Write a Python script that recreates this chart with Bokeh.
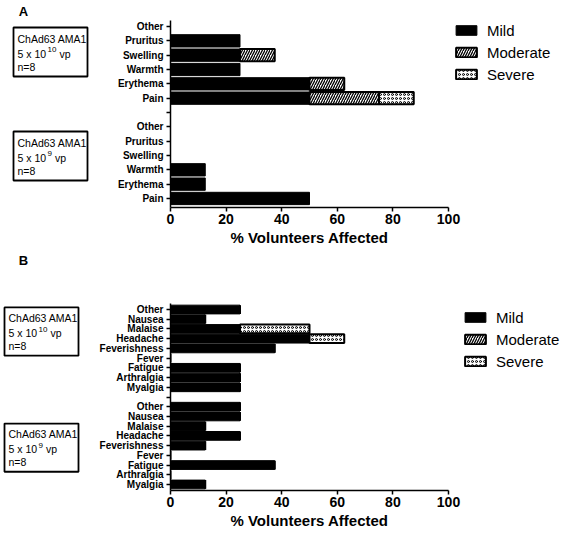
from bokeh.plotting import figure
from bokeh.models import Range1d, FixedTicker, Legend, LegendItem, ColumnDataSource, LinearAxis
from bokeh.layouts import row, column
from bokeh.core.properties import value
from bokeh.embed import file_html
from bokeh.resources import INLINE

FONT = "Liberation Sans"

# ---------------- data ----------------
# Panel A: local adverse events (top to bottom within each dose group)
local_symptoms = ["Other", "Pruritus", "Swelling", "Warmth", "Erythema", "Pain"]
local_high_mild = [0, 25, 25, 25, 50, 50]
local_high_moderate = [0, 0, 12.5, 0, 12.5, 25]
local_high_severe = [0, 0, 0, 0, 0, 12.5]
local_low_mild = [0, 0, 0, 12.5, 12.5, 50]
local_low_moderate = [0, 0, 0, 0, 0, 0]
local_low_severe = [0, 0, 0, 0, 0, 0]

# Panel B: systemic adverse events
systemic_symptoms = ["Other", "Nausea", "Malaise", "Headache", "Feverishness",
                     "Fever", "Fatigue", "Arthralgia", "Myalgia"]
systemic_high_mild = [25, 12.5, 25, 50, 37.5, 0, 25, 25, 25]
systemic_high_moderate = [0, 0, 0, 0, 0, 0, 0, 0, 0]
systemic_high_severe = [0, 0, 25, 12.5, 0, 0, 0, 0, 0]
systemic_low_mild = [25, 25, 12.5, 25, 12.5, 0, 37.5, 0, 12.5]
systemic_low_moderate = [0, 0, 0, 0, 0, 0, 0, 0, 0]
systemic_low_severe = [0, 0, 0, 0, 0, 0, 0, 0, 0]

x_ticks = [0, 20, 40, 60, 80, 100]
severity_labels = ["Mild", "Moderate", "Severe"]
vaccine_name = "ChAd63 AMA1"
dose_high = ("5 x 10", "10", "vp")
dose_low = ("5 x 10", "9", "vp")
group_size = "n=8"
x_title = "% Volunteers Affected"
panel_letters = ["A", "B"]

FRAME_W = 278
FRAME_H = 187


def segments(symptoms, mild, moderate, severe, base):
    n = len(symptoms)
    out = {k: dict(y=[], left=[], right=[]) for k in ("mild", "moderate", "severe")}
    for i in range(n):
        y = base + (n - 1 - i)
        a, b, c = mild[i], moderate[i], severe[i]
        for key, l, r in (("mild", 0, a), ("moderate", a, a + b), ("severe", a + b, a + b + c)):
            out[key]["y"].append(y)
            out[key]["left"].append(l)
            out[key]["right"].append(r)
    return out


def combine(seg_low, seg_high, key):
    ys = seg_low[key]["y"] + seg_high[key]["y"]
    ls = seg_low[key]["left"] + seg_high[key]["left"]
    rs = seg_low[key]["right"] + seg_high[key]["right"]
    keep = [i for i in range(len(ys)) if rs[i] > ls[i]]
    if not keep:  # keep zero-width entries so the legend still shows the swatch
        keep = list(range(len(ys)))
    return dict(y=[ys[i] for i in keep], left=[ls[i] for i in keep],
                right=[rs[i] for i in keep])


def make_chart(symptoms, high, low, y_pad_lo, y_pad_hi, bar_h, top_border,
               bottom_border, legend_loc):
    n = len(symptoms)
    nticks = 2 * n + 1
    p = figure(frame_width=FRAME_W, frame_height=FRAME_H,
               x_range=Range1d(0, 100),
               y_range=Range1d(-y_pad_lo, 2 * n + y_pad_hi),
               toolbar_location=None, output_backend="svg",
               min_border_left=80, min_border_right=114,
               min_border_top=top_border, min_border_bottom=bottom_border,
               background_fill_color="white", border_fill_color="white")
    p.outline_line_color = None
    p.grid.visible = False

    seg_low = segments(symptoms, *low, base=0)
    seg_high = segments(symptoms, *high, base=n + 1)

    r_mild = p.hbar(y="y", left="left", right="right", height=bar_h,
                    source=ColumnDataSource(combine(seg_low, seg_high, "mild")),
                    fill_color="black", line_color="black", line_width=1)
    r_mod = p.hbar(y="y", left="left", right="right", height=bar_h,
                   source=ColumnDataSource(combine(seg_low, seg_high, "moderate")),
                   fill_color="white", line_color="black", line_width=2,
                   hatch_pattern="/", hatch_color="black", hatch_scale=5,
                   hatch_weight=1.3)
    r_sev = p.hbar(y="y", left="left", right="right", height=bar_h,
                   source=ColumnDataSource(combine(seg_low, seg_high, "severe")),
                   fill_color="white", line_color="black", line_width=2,
                   hatch_pattern="o", hatch_color="black", hatch_scale=4,
                   hatch_weight=1)

    labels = {}
    for i, s in enumerate(symptoms):
        labels[n - 1 - i] = s
        labels[n + 1 + (n - 1 - i)] = s
    labels[n] = ""

    ya = p.yaxis[0]
    ya.ticker = FixedTicker(ticks=list(range(nticks)))
    ya.major_label_overrides = labels
    ya.major_label_text_font = FONT
    ya.major_label_text_font_style = "bold"
    ya.major_label_text_font_size = "10px"
    ya.major_label_text_color = "black"
    ya.major_label_standoff = 3
    ya.major_tick_out = 4
    ya.major_tick_in = 0
    ya.minor_tick_out = 0
    ya.minor_tick_in = 0
    ya.axis_line_width = 1.5
    ya.major_tick_line_width = 1.5

    xa = p.xaxis[0]
    xa.ticker = FixedTicker(ticks=x_ticks)
    xa.major_label_text_font = FONT
    xa.major_label_text_font_style = "bold"
    xa.major_label_text_font_size = "14px"
    xa.major_label_text_color = "black"
    xa.major_label_standoff = 2
    xa.major_tick_out = 4
    xa.major_tick_in = 0
    xa.minor_tick_out = 0
    xa.minor_tick_in = 0
    xa.axis_line_width = 1.5
    xa.major_tick_line_width = 1.5
    xa.axis_label = x_title
    xa.axis_label_text_font = FONT
    xa.axis_label_text_font_style = "bold"
    xa.axis_label_text_font_size = "15px"
    xa.axis_label_text_color = "black"
    xa.axis_label_standoff = 2

    legend = Legend(items=[LegendItem(label=severity_labels[0], renderers=[r_mild]),
                           LegendItem(label=severity_labels[1], renderers=[r_mod]),
                           LegendItem(label=severity_labels[2], renderers=[r_sev])],
                    location=legend_loc, glyph_width=26, glyph_height=12,
                    label_text_font=FONT, label_text_font_size="15px",
                    label_text_color="black", label_standoff=8, label_height=20,
                    spacing=2, padding=0, margin=0, border_line_color=None,
                    background_fill_alpha=0)
    p.add_layout(legend, "right")
    return p


def make_boxes(width, total_height, letter, letter_x, letter_standoff, boxes):
    # the frame of this figure is aligned with the chart frame; y is measured
    # in pixels from the frame top
    f = figure(width=width, height=total_height, x_range=Range1d(0, width),
               y_range=Range1d(FRAME_H, 0), toolbar_location=None,
               output_backend="svg", x_axis_location=None, y_axis_location=None,
               min_border=0)
    f.outline_line_color = None
    f.grid.visible = False
    # panel letter drawn as the single tick label of an axis above the frame
    lax = LinearAxis(ticker=FixedTicker(ticks=[letter_x]),
                     major_label_overrides={letter_x: letter},
                     axis_line_color=None, major_tick_line_color=None,
                     minor_tick_line_color=None, major_tick_out=0, major_tick_in=0,
                     minor_tick_out=0, minor_tick_in=0,
                     major_label_standoff=letter_standoff,
                     major_label_text_font=FONT, major_label_text_font_style="bold",
                     major_label_text_font_size="13px", major_label_text_color="black")
    f.add_layout(lax, "above")
    for (bx, by, dose) in boxes:
        f.quad(left=[bx], right=[bx + 74], top=[by], bottom=[by + 49],
               fill_color="white", line_color="black", line_width=1.8)
        tx = bx + 4
        f.text(x=[tx], y=[by + 11], text=[vaccine_name], text_font=value(FONT),
               text_font_size="10.5px", text_baseline="middle", text_color="black")
        f.text(x=[tx], y=[by + 26], text=[dose[0]], text_font=value(FONT),
               text_font_size="10.5px", text_baseline="middle", text_color="black")
        f.text(x=[tx + 30], y=[by + 22], text=[dose[1]], text_font=value(FONT),
               text_font_size="8px", text_baseline="middle", text_color="black")
        sup_w = 4.5 * len(dose[1])
        f.text(x=[tx + 30 + sup_w + 3], y=[by + 26], text=[dose[2]], text_font=value(FONT),
               text_font_size="10.5px", text_baseline="middle", text_color="black")
        f.text(x=[tx], y=[by + 39], text=[group_size], text_font=value(FONT),
               text_font_size="10.5px", text_baseline="middle", text_color="black")
    return f


chart_a = make_chart(local_symptoms,
                     (local_high_mild, local_high_moderate, local_high_severe),
                     (local_low_mild, local_low_moderate, local_low_severe),
                     0.63, 0.42, 0.86, 20, 42, (5, 123))
chart_b = make_chart(systemic_symptoms,
                     (systemic_high_mild, systemic_high_moderate, systemic_high_severe),
                     (systemic_low_mild, systemic_low_moderate, systemic_low_severe),
                     0.62, 0.62, 0.9, 54, 38, (14, 119))

boxes_a = make_boxes(90, 20 + FRAME_H + 42, panel_letters[0], 23, 2,
                     [(13, 7, dose_high), (13, 111, dose_low)])
boxes_b = make_boxes(90, 54 + FRAME_H + 38, panel_letters[1], 23, 36,
                     [(4, 4, dose_high), (4, 122, dose_low)])

layout = column(row(boxes_a, chart_a), row(boxes_b, chart_b))

with open("out.html", "w") as fh:
    fh.write(file_html(layout, INLINE))
